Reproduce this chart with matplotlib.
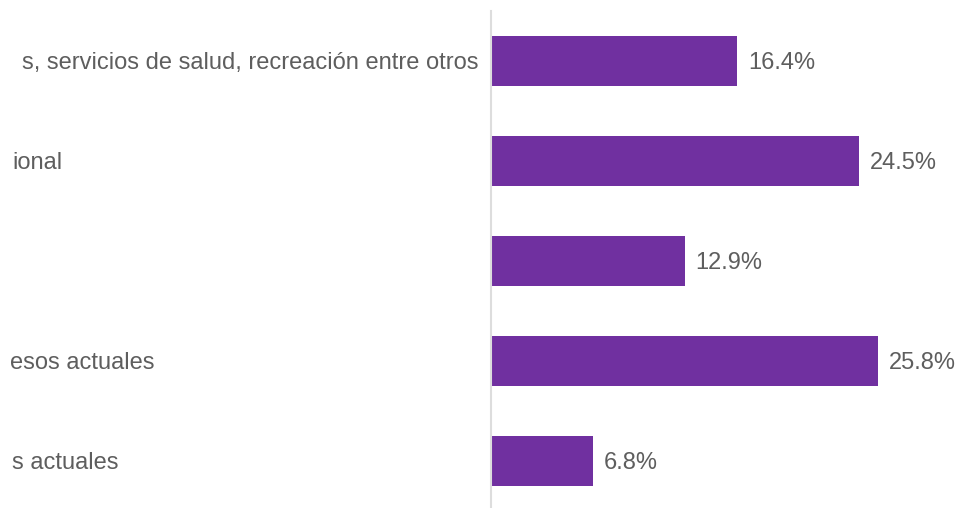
import matplotlib.pyplot as plt

# visible part of each category label (the chart is cropped on the left)
labels = ['s, servicios de salud, recreación entre otros',
          'ional',
          '',
          'esos actuales',
          's actuales']
values = [16.4, 24.5, 12.9, 25.8, 6.8]

# where each cropped label ends, in pixels from the left edge
label_end_px = [478, 63, 0, 154, 118]

bar_color = '#7030a0'
text_color = '#5e5e5e'

plt.rcParams['font.family'] = ['Liberation Sans', 'DejaVu Sans']

fig = plt.figure(figsize=(9.61, 5.08), dpi=100)
# axes placed so the bars sit right of the cropped label column
ax = fig.add_axes([491 / 961, -3 / 508, 470 / 961, 500 / 508])

y = list(range(len(values)))
ax.barh(y, values, height=0.5, color=bar_color)
ax.set_xlim(0, 470 / 15)
ax.set_ylim(len(values) - 0.5, -0.5)

for yi, v in zip(y, values):
    ax.annotate(f'{v}%', xy=(v, yi), xytext=(8, -1.2), textcoords='offset points',
                ha='left', va='center', fontsize=17, color=text_color)

# category labels, cut off by the left edge of the figure
for yi, lab, xe in zip(y, labels, label_end_px):
    ax.annotate(lab, xy=((xe - 491) / 470, yi), xycoords=ax.get_yaxis_transform(),
                xytext=(0, -1.2), textcoords='offset points',
                ha='right', va='center', fontsize=17, color=text_color)

ax.set_xticks([])
ax.set_yticks([])
for s in ['top', 'right', 'bottom']:
    ax.spines[s].set_visible(False)
ax.spines['left'].set_color('#dddddd')
ax.spines['left'].set_linewidth(1.5)

fig.savefig('out.png', dpi=100)
